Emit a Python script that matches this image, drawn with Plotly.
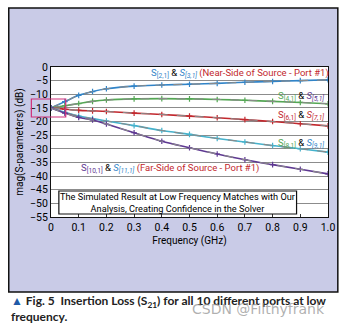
import plotly.graph_objects as go

freq = [0, 0.05, 0.1, 0.15, 0.2, 0.3, 0.4, 0.5, 0.6, 0.7, 0.8, 0.9, 1.0]
s21_s31 = [-15, -12.7, -10.4, -9.0, -8.0, -7.0, -6.6, -6.3, -6.0, -5.6, -5.3, -5.0, -4.7]
s41_s51 = [-15, -14.2, -13.4, -12.6, -12.1, -11.7, -11.6, -11.7, -11.9, -12.2, -12.6, -13.0, -13.5]
s61_s71 = [-15, -15.5, -15.9, -16.1, -16.3, -16.9, -17.4, -18.0, -18.6, -19.3, -20.0, -20.8, -21.6]
s81_s91 = [-15, -16.6, -18.0, -18.9, -19.8, -21.5, -23.3, -24.7, -26.2, -27.5, -28.8, -30.0, -31.2]
s101_s111 = [-15, -16.9, -18.5, -19.4, -20.9, -24.1, -27.2, -29.6, -31.9, -34.0, -35.8, -37.5, -39.2]

BLUE = "#3184c8"; CYAN = "#45b2cc"; GREEN = "#55a755"; RED = "#c2282e"; PURPLE = "#5e3892"

series = [
    ("S21 & S31", s21_s31, BLUE),
    ("S41 & S51", s41_s51, GREEN),
    ("S61 & S71", s61_s71, RED),
    ("S81 & S91", s81_s91, CYAN),
    ("S10,1 & S11,1", s101_s111, PURPLE),
]

x_ticks = [0, 0.1, 0.2, 0.3, 0.4, 0.5, 0.6, 0.7, 0.8, 0.9, 1.0]
x_ticktext = ["0", "0.1", "0.2", "0.3", "0.4", "0.5", "0.6", "0.7", "0.8", "0.9", "1.0"]
y_ticks = list(range(0, -60, -5))

FONT = "Roboto"

fig = go.Figure()
for name, vals, col in series:
    fig.add_trace(go.Scatter(x=freq, y=vals, mode="lines+markers", name=name,
                             line=dict(color=col, width=1.6, shape="spline"),
                             marker=dict(symbol="cross-thin", size=4, line=dict(color=col, width=1.2))))
    fig.add_trace(go.Scatter(x=freq, y=vals, mode="lines", showlegend=False,
                             line=dict(color="#8a8a8a", width=1.1, dash="dash", shape="spline")))

W, H = 347, 329
L, R, T, B = 51, 14, 67, 112
pw, ph = W - L - R, H - T - B

def px(x):
    return (x - L) / pw

def py(y):
    return (H - B - y) / ph

shapes = [
    dict(type="rect", xref="paper", yref="paper", x0=px(8), x1=px(343), y0=py(292), y1=py(8),
         fillcolor="#c9cbe7", line=dict(color="#111", width=1.5), layer="below"),
    dict(type="rect", xref="paper", yref="paper", x0=0, x1=1, y0=0, y1=1,
         fillcolor="white", line=dict(width=0), layer="below"),
    dict(type="rect", xref="paper", yref="paper", x0=px(31), x1=px(66), y0=py(117), y1=py(99),
         line=dict(color="#d0307a", width=1.2), fillcolor="rgba(0,0,0,0)"),
    dict(type="rect", xref="paper", yref="paper", x0=px(59), x1=px(301), y0=py(214), y1=py(191),
         line=dict(color="#111", width=1.2), fillcolor="white"),
]

def ann(x, y, text, size=10, color="black", xanchor="left", font=FONT, align="left"):
    return dict(xref="paper", yref="paper", x=px(x), y=py(y), text=text, showarrow=False,
                xanchor=xanchor, yanchor="middle", align=align,
                font=dict(family=font, size=size, color=color))

def S(sub, col, italic=False):
    t = f"<span style='color:{col}'>S<sub>[{sub}]</sub></span>"
    return f"<i>{t}</i>" if italic else t

annotations = [
    ann(151, 73, S("2,1", BLUE) + " & " + S("3,1", BLUE, True) +
        f" <span style='color:{RED}'>(Near-Side of Source - Port #1)</span>", size=9.5),
    ann(331, 96, S("4,1", GREEN) + " & " + S("5,1", PURPLE, True), size=9.5, xanchor="right"),
    ann(331, 115, S("6,1", RED) + " & " + S("7,1", RED, True), size=9.5, xanchor="right"),
    ann(331, 143, S("8,1", GREEN) + " & " + S("9,1", BLUE, True), size=9.5, xanchor="right"),
    ann(80, 168, S("10,1", PURPLE) + " & " + S("11,1", BLUE, True) +
        f" <span style='color:{RED}'>(Far-Side of Source - Port #1)</span>", size=9.5),
    ann(180, 202.5, "The Simulated Result at Low Frequency Matches with Our<br>Analysis, Creating Confidence in the Solver",
        size=9.2, xanchor="center", align="center"),
    ann(8, 301, "<span style='color:#1f5aa8'>▲</span> Fig. 5  Insertion Loss (S<sub>21</sub>) for all 10 different ports at low",
        size=12, color="#222", font="Lato"),
    ann(8, 316, "frequency.", size=12, color="#222", font="Lato"),
    ann(262, 309, "CSDN @Filthyfrank", size=14, color="rgba(150,150,150,0.75)", xanchor="center", font="DejaVu Sans"),
]
for a in annotations[6:8]:
    a["text"] = "<b>" + a["text"] + "</b>"

fig.update_layout(
    width=W, height=H, margin=dict(l=L, r=R, t=T, b=B),
    paper_bgcolor="white", plot_bgcolor="white",
    showlegend=False, shapes=shapes, annotations=annotations,
    font=dict(family=FONT, color="black"),
)
fig.update_xaxes(range=[0, 1], tickvals=x_ticks, ticktext=x_ticktext, showgrid=False,
                 ticks="inside", ticklen=3, tickcolor="#333", zeroline=False,
                 showline=True, linecolor="#111", linewidth=1.2, mirror=True,
                 tickfont=dict(family=FONT, size=10.5, color="black"),
                 title=dict(text="Frequency (GHz)", font=dict(family=FONT, size=10), standoff=4))
fig.update_yaxes(range=[-55, 0], tickvals=y_ticks, showgrid=True, gridcolor="#8c8c8c", gridwidth=1,
                 zeroline=False, showline=True, linecolor="#111", linewidth=1.2, mirror=True,
                 tickfont=dict(family=FONT, size=10.5, color="black"),
                 title=dict(text="mag(S-parameters) (dB)", font=dict(family=FONT, size=10), standoff=4))

fig.write_html("out.html")
